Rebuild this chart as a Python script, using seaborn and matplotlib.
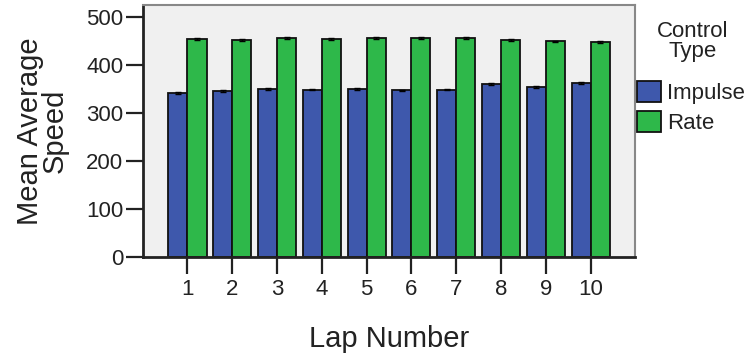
import pandas as pd
import matplotlib
matplotlib.use("Agg")
import matplotlib.pyplot as plt
import seaborn as sns

laps = ["1", "2", "3", "4", "5", "6", "7", "8", "9", "10"]
impulse_speed = [341, 346, 350, 349, 350, 347, 349, 360, 355, 362]
rate_speed = [455, 453, 456, 455, 456, 456, 456, 452, 449, 447]
impulse_err = [2, 2, 2, 2, 2, 2, 2, 2, 2, 2]
rate_err = [2, 2, 2, 2, 2, 2, 2, 2, 2, 2]
control_types = ["Impulse", "Rate"]
colors = ["#3E58AC", "#2EB84A"]

df = pd.DataFrame({
    "Lap": laps * 2,
    "Speed": impulse_speed + rate_speed,
    "Control Type": [control_types[0]] * len(laps) + [control_types[1]] * len(laps),
})

sns.set_style("white")
plt.rcParams["font.family"] = ["Liberation Sans", "DejaVu Sans"]

fig = plt.figure(figsize=(7.51, 3.58), dpi=100)
ax = fig.add_axes([0.190, 0.282, 0.656, 0.704])
ax.set_facecolor("#F0F0F0")

sns.barplot(data=df, x="Lap", y="Speed", hue="Control Type", order=laps,
            hue_order=control_types, palette=colors, width=0.85, dodge=True,
            edgecolor="#111111", linewidth=1.3, saturation=1, errorbar=None, ax=ax)

# small error caps on top of each bar
errs = impulse_err + rate_err
vals = impulse_speed + rate_speed
for p, v, e in zip(ax.patches[:len(vals)], vals, errs):
    cx = p.get_x() + p.get_width() / 2
    ax.errorbar(cx, v, yerr=e, fmt="none", ecolor="black", elinewidth=1, capsize=2.5, capthick=1)

ax.set_xlim(-1, len(laps))
ax.set_ylim(0, 525)
ax.set_yticks([0, 100, 200, 300, 400, 500])

for s in ["left", "bottom"]:
    ax.spines[s].set_color("#222222")
    ax.spines[s].set_linewidth(2)
for s in ["top", "right"]:
    ax.spines[s].set_color("#888888")
    ax.spines[s].set_linewidth(1.5)

ax.tick_params(axis="both", which="major", direction="out", length=12, width=1.6,
               color="#222222", labelsize=16, labelcolor="#222222", left=True, bottom=True)
ax.tick_params(axis="y", pad=2)
ax.tick_params(axis="x", pad=4)

ax.set_xlabel("Lap Number", fontsize=21, color="#222222")
ax.set_ylabel("Mean Average\nSpeed", fontsize=21, color="#222222", linespacing=0.85)
ax.xaxis.set_label_coords(0.5, -0.27)
ax.yaxis.set_label_coords(-0.15, 0.5)

handles, labels = ax.get_legend_handles_labels()
ax.legend(handles, labels, loc="upper left",
          bbox_to_anchor=(637 / 751, 1 - 81 / 358), bbox_transform=fig.transFigure,
          frameon=False, fontsize=16, handlelength=1.1,
          handleheight=1.1, handletextpad=0.25, labelspacing=0.3, borderaxespad=0,
          borderpad=0)
leg = ax.get_legend()
for t in leg.get_texts():
    t.set_color("#222222")
fig.text(693 / 751, 1 - 21 / 358, "Control\nType", ha="center", va="top", ma="center",
         fontsize=16, color="#222222", linespacing=0.95)

fig.savefig("out.png", dpi=100)
